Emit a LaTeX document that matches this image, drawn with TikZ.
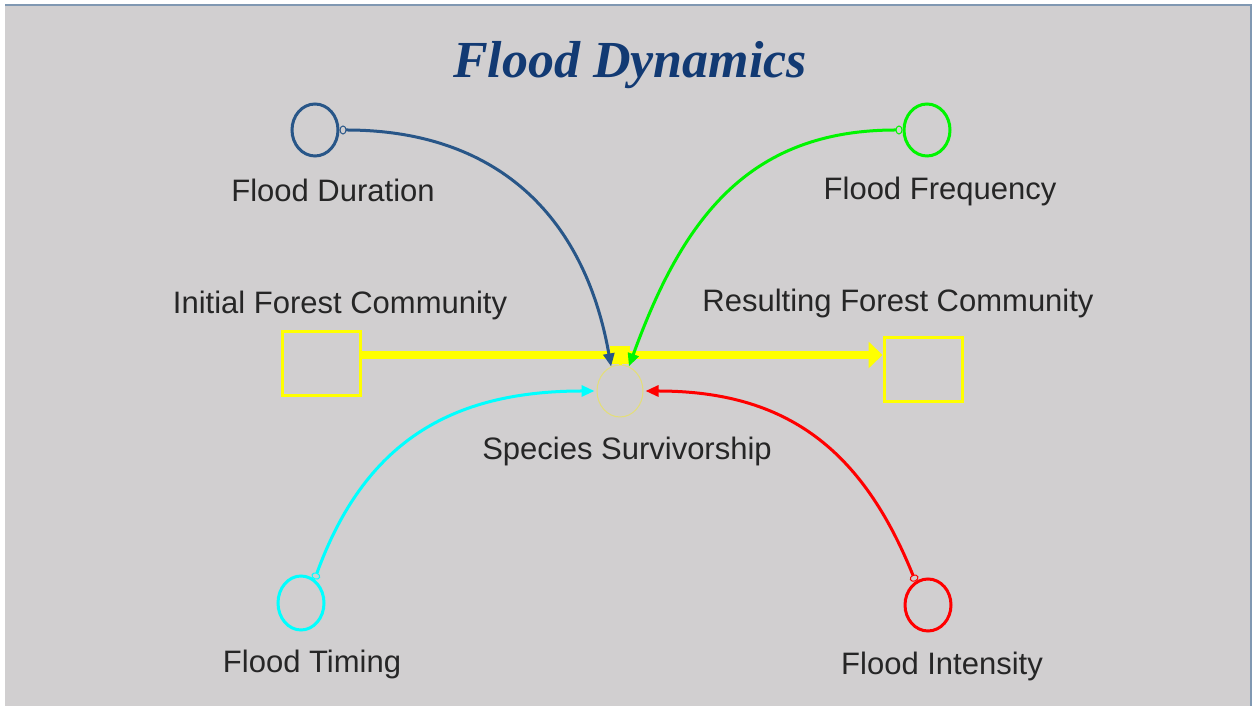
\documentclass[tikz,border=0pt]{standalone}
\usepackage{fontspec}
\setmainfont{Liberation Sans}
\newfontfamily\titlefont{Liberation Serif}
\usetikzlibrary{shapes.geometric,arrows.meta,calc}

\definecolor{panelgray}{RGB}{209,207,208}
\definecolor{edgeblue}{RGB}{128,152,178}
\definecolor{titleblue}{RGB}{18,58,115}
\definecolor{durblue}{RGB}{40,86,136}
\definecolor{freqgreen}{RGB}{0,245,0}
\definecolor{timcyan}{RGB}{0,255,255}
\definecolor{intred}{RGB}{255,0,0}
\definecolor{stockyellow}{RGB}{255,255,0}
\definecolor{survyellow}{RGB}{228,222,120}

\tikzstyle{stock} = [rectangle, draw=stockyellow, line width=3pt, minimum width=78pt, minimum height=64pt]
\tikzstyle{aux} = [ellipse, line width=3pt, minimum width=46pt, minimum height=52pt, inner sep=0pt]
\tikzstyle{varname} = [font=\fontsize{31}{36}\selectfont, text=black!85, text height=23pt, text depth=6pt, inner sep=0pt]
\tikzstyle{link} = [line width=3pt, {Circle[open, length=7pt, width=9pt, line width=1pt]}-{Triangle[length=13pt, width=11pt]}]

\begin{document}
\begin{tikzpicture}[x=1pt, y=1pt]
        \useasboundingbox (0,0) rectangle (1252,706);
        \fill[white] (0,0) rectangle (1252,706);
        \fill[panelgray] (5,0) rectangle (1251,702);
        \draw[edgeblue, line width=2pt] (5,701) -- (1251,701) -- (1251,0);

        \node (title) [anchor=base, text=titleblue, font=\titlefont\bfseries\itshape\fontsize{52}{58}\selectfont] at (630,628) {Flood Dynamics};

        % stocks and the flow
        \node (initForest) [stock] at (321,342) {};
        \node (resForest) [stock] at (923,336) {};
        \node (valve) [rectangle, fill=stockyellow, minimum width=20pt, minimum height=18pt] at (620,351) {};
        \node (survivor) [aux, draw=survyellow, line width=1pt] at (620,315) {};
        \draw [stockyellow, line width=3pt] (valve.south) -- (survivor.north);
        \draw [stockyellow, line width=8pt] (initForest.east |- valve.center) -- (valve.west);
        \draw [stockyellow, line width=8pt, -{Triangle[length=14pt, width=26pt]}] (valve.east) -- (resForest.west |- valve.center);

        \node (initLabel) [varname] at (340,401) {Initial Forest Community};
        \node (resLabel) [varname] at (898,403) {Resulting Forest Community};
        \node (survLabel) [varname] at (627,255) {Species Survivorship};

        % flood variables
        \node (floodDur) [aux, draw=durblue] at (315,576) {};
        \node (floodFreq) [aux, draw=freqgreen] at (927,576) {};
        \node (floodTim) [aux, draw=timcyan, minimum height=54pt] at (301,103) {};
        \node (floodInt) [aux, draw=intred] at (928,101) {};

        \node (durLabel) [varname] at (333,513) {Flood Duration};
        \node (freqLabel) [varname] at (940,515) {Flood Frequency};
        \node (timLabel) [varname] at (312,42) {Flood Timing};
        \node (intLabel) [varname] at (942,40) {Flood Intensity};

        \draw [link, durblue] (floodDur.east) to[out=0, in=100, looseness=1.1] (survivor.110);
        \draw [link, freqgreen] (floodFreq.west) to[out=180, in=70, looseness=1.1] (survivor.70);
        \draw [link, timcyan] (floodTim.60) to[out=70, in=180, looseness=1.1] ($(survivor.west)+(-2,0)$);
        \draw [link, intred] (floodInt.118) to[out=112, in=0, looseness=1.1] ($(survivor.east)+(2,0)$);
    \end{tikzpicture}
\end{document}
